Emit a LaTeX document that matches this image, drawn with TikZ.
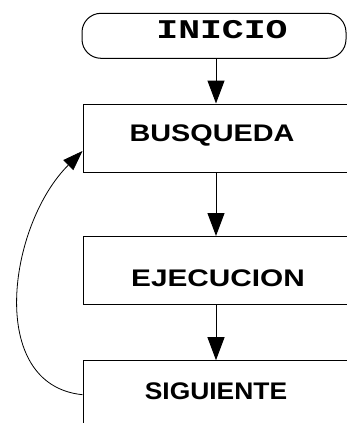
\documentclass[tikz,border=0pt]{standalone}
\usepackage{fontspec}
\setmainfont{Liberation Sans}
\newfontfamily\monobold{Liberation Mono}
\usetikzlibrary{arrows.meta}
\begin{document}
\begin{tikzpicture}[x=1pt,y=-1pt,
  stepbox/.style={draw,line width=1pt,minimum width=266pt,minimum height=68pt,inner sep=0pt},
  termbox/.style={draw,line width=1pt,rounded corners=19pt,minimum width=264pt,minimum height=45pt,inner sep=0pt},
  steptext/.style={inner sep=0pt,font=\fontsize{24}{24}\selectfont\bfseries},
  termtext/.style={inner sep=0pt,font=\monobold\fontsize{27}{27}\selectfont\bfseries},
  flow/.style={line width=1pt,-{Triangle[length=23pt,width=17pt]}},
  back/.style={line width=0.8pt,-{Triangle[length=20pt,width=14pt]}}]
\useasboundingbox (0,0) rectangle (347,423);
\clip (0,0) rectangle (347,423);
% boxes
\node[termbox] (ini) at (214,35.8) {};
\node[stepbox] (busq) at (216,138) {};
\node[stepbox] (ejec) at (216,270.5) {};
\node[stepbox] (sig) at (216,394.7) {};
% labels
\node[termtext] (initext) at (222,29.5) {\scalebox{1.35}[1]{INICIO}};
\node[steptext] (busqtext) at (212,135) {\scalebox{1.2}[1]{BUSQUEDA}};
\node[steptext] (ejectext) at (218,278) {\scalebox{1.24}[1]{EJECUCION}};
\node[steptext] (sigtext) at (216,391) {\scalebox{1.1}[1]{SIGUIENTE}};
% flow
\draw[flow] (ini.south -| busq.north) -- (busq.north);
\draw[flow] (busq.south) -- (ejec.north);
\draw[flow] (ejec.south) -- (sig.north);
% loop back
\coordinate (busqin) at ([yshift=-13pt]busq.west);
\draw[back] (sig.west) .. controls (-14,385) and (8,225) .. (busqin);
\end{tikzpicture}
\end{document}
